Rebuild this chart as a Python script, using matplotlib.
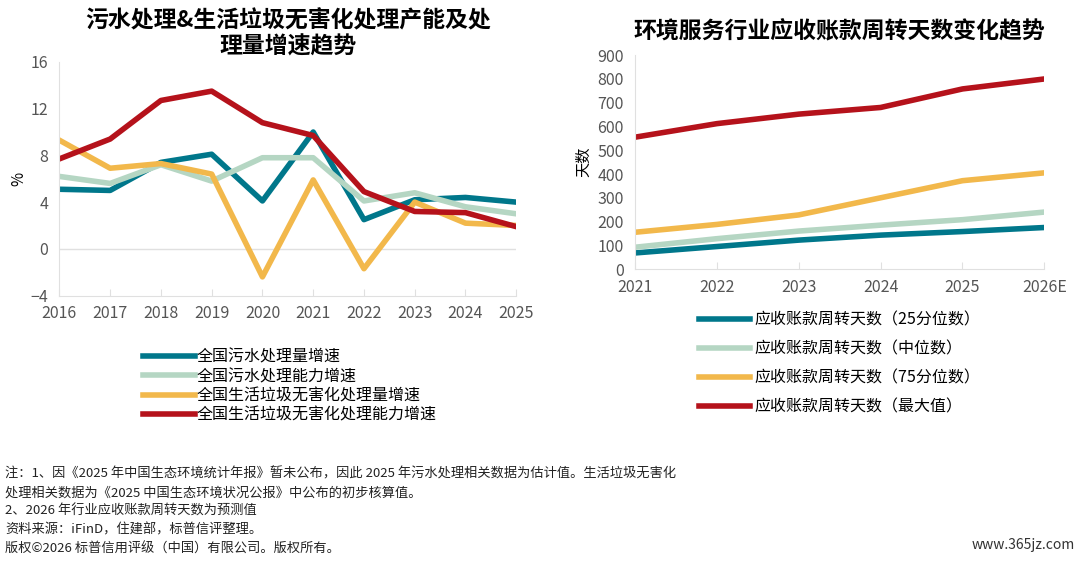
import matplotlib
matplotlib.use('Agg')
import matplotlib.pyplot as plt

plt.rcParams['font.family'] = ['Noto Sans CJK SC', 'DejaVu Sans']

years_l = ['2016', '2017', '2018', '2019', '2020', '2021', '2022', '2023', '2024', '2025']
sewage_vol = [5.1, 5.0, 7.4, 8.1, 4.1, 10.0, 2.5, 4.2, 4.4, 4.0]
sewage_cap = [6.2, 5.6, 7.2, 5.8, 7.8, 7.8, 4.1, 4.8, 3.6, 3.0]
waste_vol = [9.3, 6.9, 7.3, 6.4, -2.4, 5.9, -1.7, 4.0, 2.2, 2.0]
waste_cap = [7.7, 9.4, 12.7, 13.5, 10.8, 9.7, 4.9, 3.2, 3.1, 1.9]
labels_l = ['全国污水处理量增速', '全国污水处理能力增速', '全国生活垃圾无害化处理量增速', '全国生活垃圾无害化处理能力增速']

years_r = ['2021', '2022', '2023', '2024', '2025', '2026E']
days_p25 = [68, 95, 122, 143, 158, 175]
days_med = [92, 128, 160, 185, 208, 240]
days_p75 = [155, 188, 228, 300, 372, 405]
days_max = [555, 612, 652, 680, 758, 800]
labels_r = ['应收账款周转天数（25分位数）', '应收账款周转天数（中位数）', '应收账款周转天数（75分位数）', '应收账款周转天数（最大值）']

colors = ['#00778B', '#B5D6C3', '#F2B84B', '#B5121B']
grey = '#555555'

fig = plt.figure(figsize=[10.8, 5.63], dpi=100)

def style(ax):
    for s in ['top', 'right']:
        ax.spines[s].set_visible(False)
    ax.spines['left'].set_color('#e0e0e0')
    ax.spines['bottom'].set_color('#e0e0e0')
    ax.tick_params(colors=grey, labelsize=11.5, length=0, pad=8)
    ax.tick_params(axis='x', length=5, color='#e0e0e0', direction='in', pad=7)

ax1 = fig.add_axes([0.055, 0.475, 0.423, 0.415])
for d, c, l in zip([sewage_vol, sewage_cap, waste_vol, waste_cap], colors, labels_l):
    ax1.plot(range(len(years_l)), d, color=c, lw=4, label=l)
ax1.set_xticks(range(len(years_l)), years_l)
ax1.set_yticks([-4, 0, 4, 8, 12, 16])
ax1.set_ylim(-4, 16)
ax1.set_xlim(0, 9)
ax1.axhline(0, color='#e0e0e0', lw=1, zorder=0)
ax1.set_ylabel('%', fontsize=11, labelpad=2)
style(ax1)
ax1.set_title('污水处理&生活垃圾无害化处理产能及处\n理量增速趋势', fontsize=16.5, fontweight='bold', pad=6)
ax1.legend(loc='upper left', bbox_to_anchor=(0.17, -0.2), frameon=False, fontsize=11.5,
           handlelength=3.2, handletextpad=0.1, labelspacing=0.15, borderaxespad=0)

ax2 = fig.add_axes([0.588, 0.522, 0.379, 0.38])
for d, c, l in zip([days_p25, days_med, days_p75, days_max], colors, labels_r):
    ax2.plot(range(len(years_r)), d, color=c, lw=4, label=l)
ax2.set_xticks(range(len(years_r)), years_r)
ax2.set_yticks(range(0, 901, 100))
ax2.set_ylim(0, 900)
ax2.set_xlim(0, 5)
ax2.set_ylabel('天数', fontsize=11, labelpad=4)
style(ax2)
ax2.set_title('环境服务行业应收账款周转天数变化趋势', fontsize=16.5, fontweight='bold', pad=12)
ax2.legend(loc='upper left', bbox_to_anchor=(0.14, -0.17), frameon=False, fontsize=11.5,
           handlelength=3.2, handletextpad=0.3, labelspacing=0.75, borderaxespad=0)

notes = ('注：1、因《2025 年中国生态环境统计年报》暂未公布，因此 2025 年污水处理相关数据为估计值。生活垃圾无害化\n'
         '处理相关数据为《2025 中国生态环境状况公报》中公布的初步核算值。\n'
         '2、2026 年行业应收账款周转天数为预测值\n'
         '资料来源：iFinD，住建部，标普信评整理。\n'
         '版权©2026 标普信用评级（中国）有限公司。版权所有。')
fig.text(0.005, 0.17, notes, fontsize=9.5, va='top', linespacing=1.55, color='#222222')
fig.text(0.995, 0.02, 'www.365jz.com', fontsize=10, ha='right', va='bottom', color='#333333')

fig.savefig('out.png')
